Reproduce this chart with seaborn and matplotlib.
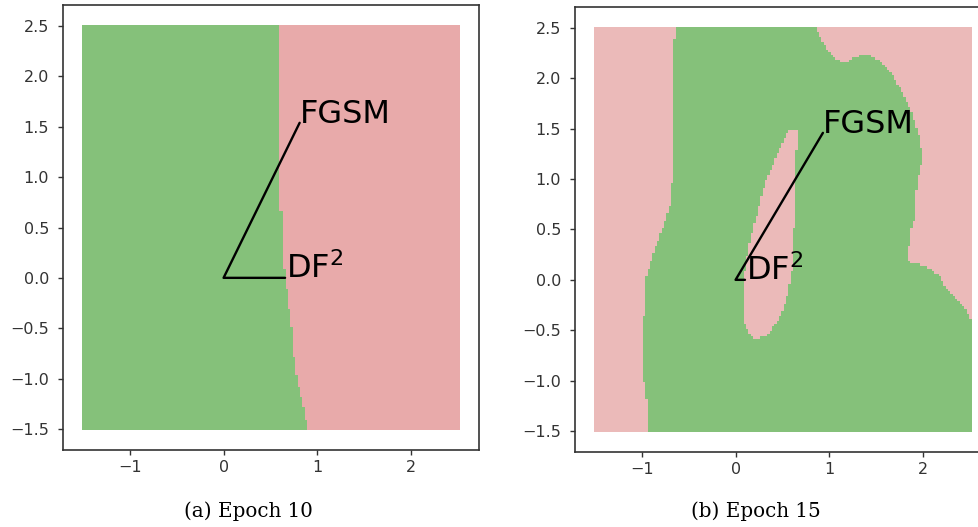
import numpy as np
import pandas as pd
import matplotlib
matplotlib.use("Agg")
import matplotlib.pyplot as plt
from matplotlib.colors import ListedColormap
from matplotlib.path import Path
import seaborn as sns

# ---- evaluation grid -------------------------------------------------------
grid_min, grid_max, grid_step = -1.5, 2.5, 0.025

# ---- Epoch 10: a single boundary, class "green" lies left of it ------------
e10_boundary_y = [-1.51, -1.38, -1.21, -1.01, -0.71, -0.52, -0.25, -0.02,
                  0.09, 0.10, 0.65, 0.66, 2.52]
e10_boundary_x = [0.90, 0.87, 0.83, 0.78, 0.74, 0.73, 0.69, 0.665,
                  0.665, 0.63, 0.63, 0.595, 0.595]

# ---- Epoch 15: green region outline and the red pocket inside it -----------
e15_green_x = [-0.63, -0.63, -0.665, -0.665, -0.68, -0.77, -0.84, -0.895,
               -0.95, -0.965, -0.985, -0.99, -0.95, -0.93, -0.93,
               2.60, 2.60, 2.51, 2.46, 2.35, 2.25, 2.18, 2.03, 1.84,
               1.84, 1.86, 1.91, 1.93, 1.98, 1.98, 1.945, 1.875, 1.785,
               1.68, 1.54, 1.395, 1.25, 1.18, 1.075, 1.00, 0.915, 0.86, 0.86]
e15_green_y = [2.60, 2.42, 2.38, 1.29, 0.79, 0.53, 0.36, 0.20,
               0.03, -0.20, -0.50, -0.90, -1.19, -1.49, -1.60,
               -1.60, -0.45, -0.42, -0.30, -0.20, -0.10, 0.03, 0.13, 0.18,
               0.20, 0.46, 0.63, 0.96, 1.15, 1.29, 1.455, 1.655, 1.85,
               2.02, 2.17, 2.245, 2.21, 2.16, 2.185, 2.25, 2.38, 2.50, 2.60]

e15_pocket_x = [0.56, 0.65, 0.65, 0.63, 0.61, 0.58, 0.56, 0.51, 0.44,
                0.33, 0.22, 0.15, 0.10, 0.08, 0.08, 0.12, 0.15, 0.22,
                0.31, 0.40, 0.44, 0.51]
e15_pocket_y = [1.48, 1.48, 1.29, 0.63, 0.13, 0.00, -0.13, -0.30, -0.43,
                -0.55, -0.60, -0.55, -0.43, -0.20, 0.00, 0.20, 0.36, 0.63,
                0.96, 1.15, 1.25, 1.39]

# ---- adversarial perturbations from the origin -----------------------------
e10_fgsm = (0.81, 1.54)
e10_df2 = (0.655, 0.0)
e15_fgsm = (0.93, 1.46)
e15_df2 = (0.10, 0.0)

captions = ["(a) Epoch 10", "(b) Epoch 15"]

green = "#85C17A"
pink_e10 = "#E8AAAA"
pink_e15 = "#EBBAB9"

# ---------------------------------------------------------------------------
sns.set_theme(style="ticks")
plt.rcParams.update({
    "axes.edgecolor": "#333333",
    "axes.linewidth": 1.2,
    "xtick.color": "#333333",
    "ytick.color": "#333333",
    "xtick.labelcolor": "#333333",
    "ytick.labelcolor": "#333333",
    "xtick.labelsize": 11.5,
    "ytick.labelsize": 11.5,
    "xtick.major.size": 3.6,
    "ytick.major.size": 3.6,
    "xtick.major.width": 1.0,
    "ytick.major.width": 1.0,
    "ytick.major.pad": 6.5,
    "xtick.major.pad": 3.5,
})
plt.rcParams["font.family"] = ["DejaVu Sans"]

xs = np.arange(grid_min, grid_max + grid_step / 2, grid_step)
ys = np.arange(grid_min, grid_max + grid_step / 2, grid_step)
gx, gy = np.meshgrid(xs, ys)
pts = np.column_stack([gx.ravel(), gy.ravel()])

# Epoch 10 labels
edge10 = np.interp(gy.ravel(), e10_boundary_y, e10_boundary_x)
z10 = (gx.ravel() < edge10).astype(float).reshape(gx.shape)

# Epoch 15 labels
green_path = Path(np.column_stack([e15_green_x, e15_green_y]))
pocket_path = Path(np.column_stack([e15_pocket_x, e15_pocket_y]))
inside = green_path.contains_points(pts) & ~pocket_path.contains_points(pts)
z15 = inside.astype(float).reshape(gx.shape)

fig = plt.figure(figsize=(9.79, 5.27), dpi=100)
ax_a = fig.add_axes([63 / 979, 1 - 450 / 527, 416 / 979, 445 / 527])
ax_b = fig.add_axes([575 / 979, 1 - 452 / 527, 416 / 979, 445 / 527])

panels = [
    (ax_a, z10, pink_e10, e10_fgsm, e10_df2),
    (ax_b, z15, pink_e15, e15_fgsm, e15_df2),
]

for ax, z, pink, fgsm, df2 in panels:
    cmap = ListedColormap([pink, green])
    ax.pcolormesh(xs, ys, z, cmap=cmap, vmin=0, vmax=1, shading="nearest")
    path = pd.DataFrame({"x": [fgsm[0], 0.0, df2[0]],
                         "y": [fgsm[1], 0.0, df2[1]],
                         "step": [0, 1, 2]})
    sns.lineplot(data=path, x="x", y="y", sort=False, estimator=None,
                 color="black", linewidth=1.7, ax=ax)
    ax.text(fgsm[0], fgsm[1], "FGSM", fontsize=23, color="black",
            ha="left", va="baseline")
    ax.text(df2[0] + 0.01, df2[1], "DF$^2$", fontsize=23, color="black",
            ha="left", va="baseline")
    ax.set_xlim(-1.71, 2.72)
    ax.set_ylim(-1.71, 2.71)
    ax.set_xticks([-1, 0, 1, 2])
    ax.set_yticks([-1.5, -1.0, -0.5, 0.0, 0.5, 1.0, 1.5, 2.0, 2.5])
    ax.set_xticklabels(["\u22121", "0", "1", "2"])
    ax.set_yticklabels(["\u22121.5", "\u22121.0", "\u22120.5", "0.0", "0.5",
                        "1.0", "1.5", "2.0", "2.5"])
    ax.set_xlabel("")
    ax.set_ylabel("")
    for s in ax.spines.values():
        s.set_visible(True)

fig.text(248.7 / 979, 1 - 517 / 527, captions[0], family="DejaVu Serif",
         fontsize=14.3, ha="center", va="baseline", color="black")
fig.text(756 / 979, 1 - 517 / 527, captions[1], family="DejaVu Serif",
         fontsize=14.3, ha="center", va="baseline", color="black")

fig.savefig("out.png", dpi=100)
